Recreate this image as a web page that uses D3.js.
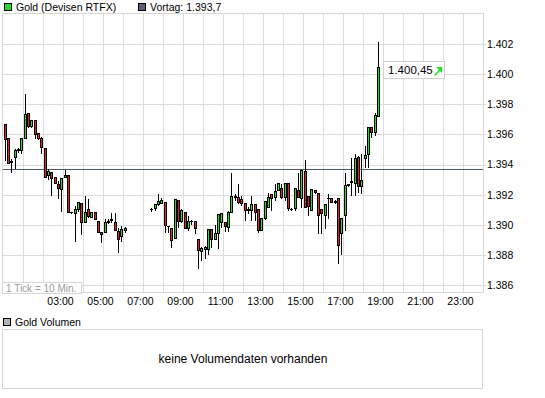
<!DOCTYPE html>
<html>
<head>
<meta charset="utf-8">
<script src="https://cdn.jsdelivr.net/npm/d3@7/dist/d3.min.js"></script>
<style>
  body { margin: 0; background: #fff; }
  svg { display: block; font-family: "Liberation Sans", Arial, sans-serif; }
</style>
</head>
<body>
<script>
const width = 545;
const height = 398;

// 10-minute candles, slot = index of the 10 min interval after 00:00
const slots = d3.range(0, 37).concat(d3.range(44, 113));

const open = [
  1.39668, 1.39575, 1.39421, 1.39448, 1.39499, 1.39493, 1.39575, 1.39741, 1.39657, 1.39696,
  1.39612, 1.39579, 1.39508, 1.39331, 1.39349, 1.39315, 1.39269, 1.39236, 1.39315, 1.39331,
  1.39085, 1.39076, 1.39103, 1.39147, 1.39021, 1.39105, 1.39054, 1.39083, 1.39025, 1.38950,
  1.38954, 1.39021, 1.39034, 1.39021, 1.38961, 1.38926, 1.38965,
  1.39103, 1.39114, 1.39136, 1.39147, 1.39149, 1.38995, 1.38981, 1.38910, 1.39165, 1.39027,
  1.39087, 1.38981, 1.39025, 1.39025, 1.38904, 1.38826, 1.38837, 1.38837, 1.38970, 1.38904,
  1.38943, 1.39020, 1.39020, 1.38987, 1.39083, 1.39187, 1.39183, 1.39169, 1.39143, 1.39098,
  1.39098, 1.39136, 1.39103, 1.38965, 1.39043, 1.39120, 1.39203, 1.39187, 1.39231, 1.39242,
  1.39187, 1.39276, 1.39105, 1.39110, 1.39231, 1.39176, 1.39359, 1.39191, 1.39098, 1.39231,
  1.39213, 1.39103, 1.39065, 1.39176, 1.39176, 1.39153, 1.39176, 1.38947, 1.39065, 1.39268,
  1.39286, 1.39280, 1.39452, 1.39258, 1.39442, 1.39470, 1.39652, 1.39619, 1.39723
];
const high = [
  1.39668, 1.39575, 1.39442, 1.39508, 1.39519, 1.39575, 1.39878, 1.39747, 1.39701, 1.39696,
  1.39619, 1.39586, 1.39513, 1.39375, 1.39353, 1.39315, 1.39298, 1.39309, 1.39371, 1.39331,
  1.39090, 1.39132, 1.39154, 1.39147, 1.39198, 1.39176, 1.39083, 1.39087, 1.39025, 1.38954,
  1.39043, 1.39047, 1.39087, 1.39087, 1.38988, 1.38999, 1.38994,
  1.39120, 1.39147, 1.39209, 1.39187, 1.39149, 1.38999, 1.38981, 1.39171, 1.39165, 1.39110,
  1.39087, 1.39065, 1.39036, 1.39032, 1.38904, 1.38859, 1.38866, 1.38970, 1.38970, 1.39005,
  1.39076, 1.39076, 1.39020, 1.39098, 1.39353, 1.39209, 1.39276, 1.39198, 1.39143, 1.39125,
  1.39198, 1.39136, 1.39103, 1.39043, 1.39165, 1.39216, 1.39209, 1.39276, 1.39276, 1.39280,
  1.39280, 1.39276, 1.39120, 1.39242, 1.39353, 1.39364, 1.39435, 1.39191, 1.39242, 1.39231,
  1.39213, 1.39103, 1.39136, 1.39209, 1.39176, 1.39170, 1.39176, 1.39043, 1.39353, 1.39276,
  1.39452, 1.39475, 1.39464, 1.39477, 1.39530, 1.39652, 1.39652, 1.39751, 1.40221
];
const low = [
  1.39431, 1.39408, 1.39353, 1.39375, 1.39486, 1.39475, 1.39575, 1.39652, 1.39652, 1.39575,
  1.39568, 1.39475, 1.39320, 1.39302, 1.39198, 1.39276, 1.39176, 1.39094, 1.39315, 1.39083,
  1.39078, 1.38895, 1.39094, 1.38939, 1.39021, 1.39054, 1.39054, 1.39039, 1.38950, 1.38888,
  1.38950, 1.39010, 1.39021, 1.38965, 1.38817, 1.38895, 1.38954,
  1.39094, 1.39098, 1.39131, 1.39143, 1.38954, 1.38954, 1.38854, 1.38910, 1.38987, 1.39020,
  1.38977, 1.38965, 1.39005, 1.38947, 1.38711, 1.38766, 1.38778, 1.38806, 1.38854, 1.38904,
  1.38844, 1.38987, 1.38961, 1.38961, 1.39083, 1.39165, 1.39143, 1.39131, 1.39032, 1.39080,
  1.39032, 1.39032, 1.38954, 1.38965, 1.39036, 1.39120, 1.39098, 1.39165, 1.39231, 1.39176,
  1.39165, 1.39098, 1.39098, 1.39098, 1.39187, 1.39120, 1.39120, 1.39065, 1.39098, 1.39209,
  1.38943, 1.38943, 1.38977, 1.39043, 1.39153, 1.39145, 1.38744, 1.38806, 1.38965, 1.39258,
  1.39198, 1.39198, 1.39220, 1.39209, 1.39386, 1.39386, 1.39585, 1.39597, 1.39723
];
const close = [
  1.39568, 1.39408, 1.39418, 1.39497, 1.39503, 1.39575, 1.39734, 1.39657, 1.39696, 1.39601,
  1.39575, 1.39515, 1.39320, 1.39357, 1.39309, 1.39276, 1.39242, 1.39309, 1.39331, 1.39083,
  1.39082, 1.39105, 1.39154, 1.39021, 1.39087, 1.39061, 1.39083, 1.39039, 1.38950, 1.38937,
  1.39021, 1.39023, 1.39038, 1.38965, 1.38906, 1.38970, 1.38981,
  1.39105, 1.39136, 1.39158, 1.39165, 1.38999, 1.38992, 1.38899, 1.39171, 1.39027, 1.39098,
  1.38977, 1.39025, 1.39022, 1.38977, 1.38833, 1.38844, 1.38854, 1.38970, 1.38906, 1.38947,
  1.39070, 1.39076, 1.38992, 1.39083, 1.39191, 1.39189, 1.39153, 1.39147, 1.39098, 1.39103,
  1.39136, 1.39087, 1.38965, 1.39043, 1.39158, 1.39187, 1.39176, 1.39227, 1.39276, 1.39187,
  1.39276, 1.39110, 1.39103, 1.39242, 1.39187, 1.39364, 1.39120, 1.39125, 1.39236, 1.39216,
  1.39065, 1.39080, 1.39136, 1.39178, 1.39153, 1.39160, 1.38866, 1.39043, 1.39264, 1.39266,
  1.39288, 1.39442, 1.39258, 1.39297, 1.39464, 1.39652, 1.39619, 1.39730, 1.40045
];

const vortag = 1.3937;
const lastPrice = '1.400,45';
const yTicks = [1.386, 1.388, 1.390, 1.392, 1.394, 1.396, 1.398, 1.400, 1.402];
const xTickHours = [3, 5, 7, 9, 11, 13, 15, 17, 19, 21, 23];

const candles = slots.map((s, i) => ({
  t: s * 10 + 5, o: open[i], h: high[i], l: low[i], c: close[i]
}));

const plot = {left: 3, right: 483, top: 14, bottom: 293};
const crisp = v => Math.round(v) + 0.5;

const svg = d3.select('body').append('svg')
    .attr('width', width)
    .attr('height', height);

const x = d3.scaleLinear().domain([0, 24 * 60]).range([plot.left, plot.right]);
const y = d3.scaleLinear().domain([1.386, 1.402]).range([285, 44]);

// frame
svg.append('rect')
    .attr('x', plot.left - 0.5).attr('y', plot.top - 0.5)
    .attr('width', plot.right - plot.left + 1).attr('height', plot.bottom - plot.top)
    .attr('fill', '#fff').attr('stroke', '#d6d6d6')
    .attr('shape-rendering', 'crispEdges');

// grid
const grid = svg.append('g')
    .attr('stroke', '#dcdcdc')
    .attr('shape-rendering', 'crispEdges');

grid.selectAll('line.v')
    .data(d3.range(1, 24))
    .enter().append('line')
    .attr('class', 'v')
    .attr('x1', d => crisp(x(d * 60)))
    .attr('x2', d => crisp(x(d * 60)))
    .attr('y1', plot.top)
    .attr('y2', plot.bottom);

grid.selectAll('line.h')
    .data(yTicks)
    .enter().append('line')
    .attr('class', 'h')
    .attr('x1', plot.left)
    .attr('x2', plot.right + 3)
    .attr('y1', d => crisp(y(d)))
    .attr('y2', d => crisp(y(d)));

// previous close
svg.append('line')
    .attr('x1', plot.left).attr('x2', plot.right)
    .attr('y1', crisp(y(vortag))).attr('y2', crisp(y(vortag)))
    .attr('stroke', '#4f5777')
    .attr('shape-rendering', 'crispEdges');

// candles
const cg = svg.append('g').attr('shape-rendering', 'crispEdges');
const candle = cg.selectAll('g')
    .data(candles)
    .enter().append('g');

candle.append('line')
    .attr('x1', d => Math.round(x(d.t)) + 0.5)
    .attr('x2', d => Math.round(x(d.t)) + 0.5)
    .attr('y1', d => crisp(y(d.h)))
    .attr('y2', d => crisp(y(d.l)))
    .attr('stroke', '#000');

candle.each(function (d) {
  const g = d3.select(this);
  const cx = Math.round(x(d.t));
  const top = crisp(y(Math.max(d.o, d.c)));
  const bot = crisp(y(Math.min(d.o, d.c)));
  if (bot - top < 1) {
    g.append('line')
        .attr('x1', cx - 1).attr('x2', cx + 2)
        .attr('y1', top).attr('y2', top)
        .attr('stroke', '#000');
  } else {
    g.append('rect')
        .attr('x', cx - 0.5)
        .attr('y', top)
        .attr('width', 2)
        .attr('height', bot - top)
        .attr('fill', d.c >= d.o ? '#1fe01f' : '#e42222')
        .attr('stroke', '#000');
  }
});

// last price tag
const tag = svg.append('g');
tag.append('rect')
    .attr('x', 383.5).attr('y', 61.5).attr('width', 61).attr('height', 17)
    .attr('fill', '#fff').attr('stroke', '#d0d0d0')
    .attr('shape-rendering', 'crispEdges');
tag.append('text')
    .attr('x', 388).attr('y', 74)
    .attr('font-size', 11.5)
    .text(lastPrice);
tag.append('path')
    .attr('d', 'M434.5,75.5 L440.5,69.5')
    .attr('stroke', '#19e619').attr('stroke-width', 1.6);
tag.append('path')
    .attr('d', 'M436,67 L442,67 L442,73 Z')
    .attr('fill', '#19e619');

// tick note
svg.append('rect')
    .attr('x', 2.5).attr('y', 282.5).attr('width', 79).attr('height', 11)
    .attr('fill', '#fff').attr('stroke', '#d6d6d6')
    .attr('shape-rendering', 'crispEdges');
svg.append('text')
    .attr('x', 6).attr('y', 291.5)
    .attr('font-size', 10)
    .attr('fill', '#9a9a9a')
    .text('1 Tick = 10 Min.');

// axes
const yAxis = svg.append('g')
    .attr('transform', `translate(${plot.right + 1},0)`)
    .call(d3.axisRight(y).tickValues(yTicks).tickSize(0).tickPadding(3)
        .tickFormat(d3.format('.3f')));
yAxis.select('.domain').remove();
yAxis.selectAll('text').attr('font-size', 10.5).attr('fill', '#000')
    .attr('font-family', '"Liberation Sans", Arial, sans-serif');

const xAxis = svg.append('g')
    .attr('transform', `translate(-3,${plot.bottom + 2})`)
    .call(d3.axisBottom(x).tickValues(xTickHours.map(h => h * 60)).tickSize(0).tickPadding(3)
        .tickFormat(d => d3.format('02d')(d / 60) + ':00'));
xAxis.select('.domain').remove();
xAxis.selectAll('text').attr('font-size', 10.5).attr('fill', '#000')
    .attr('font-family', '"Liberation Sans", Arial, sans-serif');

// legend
const legend = [
  {x: 4, label: 'Gold (Devisen RTFX)', color: '#22dd22'},
  {x: 138, label: 'Vortag: 1.393,7', color: '#5c6079'}
];
const lg = svg.append('g').selectAll('g').data(legend).enter().append('g');
lg.append('rect')
    .attr('x', d => d.x + 0.5).attr('y', 3.5).attr('width', 7).attr('height', 7)
    .attr('fill', d => d.color).attr('stroke', '#000')
    .attr('shape-rendering', 'crispEdges');
lg.append('text')
    .attr('x', d => d.x + 12).attr('y', 11)
    .attr('font-size', 10.5)
    .text(d => d.label);

// volume panel
svg.append('rect')
    .attr('x', 3.5).attr('y', 318.5).attr('width', 7).attr('height', 7)
    .attr('fill', '#b4b4b4').attr('stroke', '#000')
    .attr('shape-rendering', 'crispEdges');
svg.append('text')
    .attr('x', 15).attr('y', 326)
    .attr('font-size', 10.5)
    .text('Gold Volumen');
svg.append('rect')
    .attr('x', 2.5).attr('y', 329.5).attr('width', 480).attr('height', 59)
    .attr('fill', '#fff').attr('stroke', '#d6d6d6')
    .attr('shape-rendering', 'crispEdges');
svg.append('text')
    .attr('x', 243).attr('y', 363)
    .attr('text-anchor', 'middle')
    .attr('font-size', 12)
    .text('keine Volumendaten vorhanden');
</script>
</body>
</html>
